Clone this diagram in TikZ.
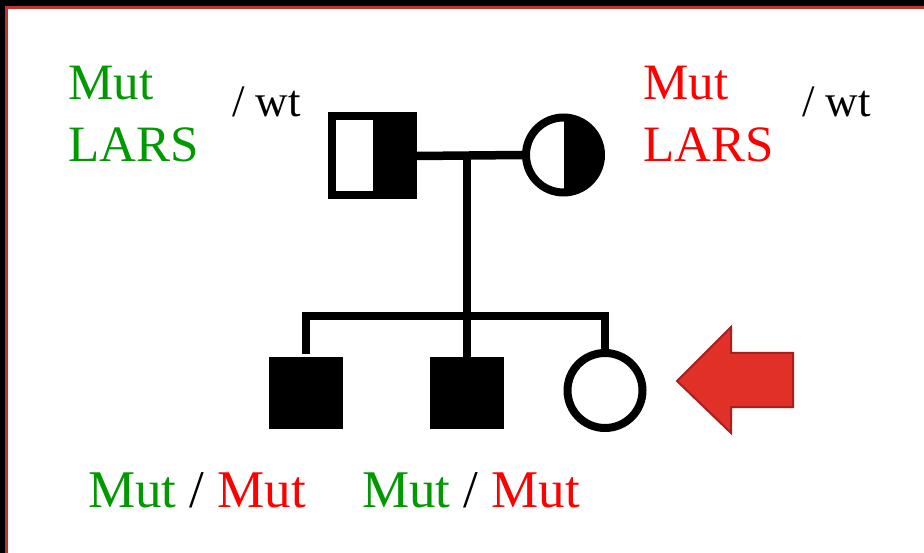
\documentclass[tikz,border=0pt]{standalone}
\usepackage{fontspec}
\setmainfont{Liberation Serif}
\definecolor{mutgreen}{RGB}{0,153,0}
\definecolor{mutred}{RGB}{255,0,0}
\definecolor{framered}{RGB}{192,52,46}
\definecolor{arrowfill}{RGB}{224,48,40}
\definecolor{arrowedge}{RGB}{170,30,28}
\begin{document}
\begin{tikzpicture}[x=1pt,y=-1pt,
  male/.style={rectangle,draw=black,line width=8pt,minimum width=81pt,minimum height=79pt,inner sep=0pt,fill=white},
  female/.style={circle,draw=black,line width=8pt,minimum size=75pt,inner sep=0pt,fill=white},
  affmale/.style={rectangle,fill=black,minimum width=74pt,minimum height=72pt,inner sep=0pt},
  halfright/.style={path picture={\fill[black] (path picture bounding box.north) rectangle (path picture bounding box.south east);}},
  kin/.style={draw=black,line width=8.5pt,line join=miter},
  geno/.style={inner sep=0pt,anchor=base west,font=\fontsize{51}{62}\selectfont},
  wtlabel/.style={inner sep=0pt,anchor=base west,font=\fontsize{45}{54}\selectfont},
  childgeno/.style={inner sep=0pt,anchor=base west,font=\fontsize{53}{64}\selectfont},
  pointer/.style={fill=arrowfill,draw=arrowedge,line width=2pt,line join=miter}]
\useasboundingbox (0,0) rectangle (924,553);
\fill[white] (0,0) rectangle (924,553);
% frame along the top and left edges
\fill[black] (0,0) rectangle (924,6);
\fill[black] (0,0) rectangle (5,553);
\draw[framered,line width=2.8pt] (6.4,553) |- (924,7.4);

% parents
\node[male,halfright] (father) at (372.5,156) {};
\node[female,halfright] (mother) at (563.5,155) {};
% children
\node[affmale] (son1) at (306,393) {};
\node[affmale] (son2) at (467,393) {};
\node[female] (daughter) at (605,390.5) {};

% mating, descent and sibship lines
\draw[kin] (father.east) -- (mother.west);
\coordinate (mate) at (467,156);
\coordinate (sib) at (467,316);
\draw[kin] (mate) -- (son2.north);
\draw[kin] ([yshift=3pt]son1.north) -- (son1.north |- sib) -- (daughter.north |- sib) -- (daughter.north);

% pointer to the proband
\path[pointer] (677,381) -- (731,327) -- (731,353) -- (793,353) -- (793,407) -- (731,407) -- (731,433) -- cycle;

% genotype labels
\node[geno,text=mutgreen] (fmut) at (68,100) {Mut};
\node[geno,text=mutgreen] (flars) at (68,162) {LARS};
\node[wtlabel] (fwt) at (232,117) {/ wt};
\node[geno,text=mutred] (mmut) at (643,100) {Mut};
\node[geno,text=mutred] (mlars) at (643,162) {LARS};
\node[wtlabel] (mwt) at (802,117) {/ wt};
\node[childgeno] (s1geno) at (88,507) {\textcolor{mutgreen}{Mut} / \textcolor{mutred}{Mut}};
\node[childgeno] (s2geno) at (362,507) {\textcolor{mutgreen}{Mut} / \textcolor{mutred}{Mut}};
\end{tikzpicture}
\end{document}
